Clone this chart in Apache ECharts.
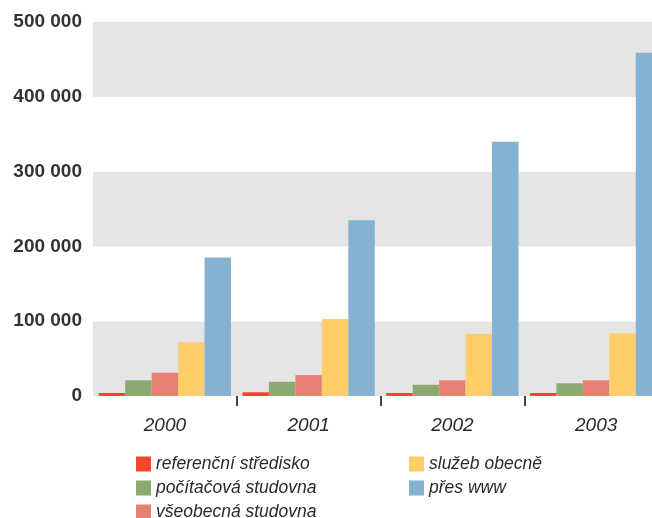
<!DOCTYPE html>
<html>
<head>
<meta charset="utf-8">
<script src="https://cdn.jsdelivr.net/npm/echarts@6/dist/echarts.min.js"></script>
<style>
html,body{margin:0;padding:0;background:#fff;}
#chart{width:652px;height:518px;}
</style>
</head>
<body>
<div id="chart"></div>
<script>
const categories = ['2000', '2001', '2002', '2003'];
const seriesNames = ['referenční středisko', 'počítačová studovna', 'všeobecná studovna', 'služeb obecně', 'přes www'];
const referencni = [4000, 5000, 4000, 4000];
const pocitacova = [21000, 19000, 15000, 17000];
const vseobecna = [31000, 28000, 21000, 21000];
const sluzeb = [72000, 103000, 83000, 84000];
const www = [185000, 235000, 340000, 459000];
const yTicks = [0, 100000, 200000, 300000, 400000, 500000];

const colors = ['#F2472C', '#8CA96F', '#E77F73', '#FFCE69', '#84B2D0'];
const values = [referencni, pocitacova, vseobecna, sluzeb, www];
const fontFamily = '"Liberation Sans", Arial, sans-serif';
const legendText = { fontFamily, fontSize: 17.5, fontStyle: 'italic', color: '#2a2a2a' };

const chart = echarts.init(document.getElementById('chart'));
chart.setOption({
  animation: false,
  color: colors,
  grid: { left: 93, width: 575, top: 22, height: 374, outerBoundsMode: 'none', containLabel: false },
  legend: [
    {
      data: seriesNames.slice(0, 3),
      orient: 'vertical', left: 136, top: 455, height: 80, padding: 0,
      itemWidth: 15, itemHeight: 15, itemGap: 6, icon: 'rect',
      textStyle: legendText
    },
    {
      data: seriesNames.slice(3),
      orient: 'vertical', left: 409, top: 455, height: 80, padding: 0,
      itemWidth: 15, itemHeight: 15, itemGap: 6, icon: 'rect',
      textStyle: legendText
    }
  ],
  xAxis: {
    type: 'category',
    data: categories,
    axisLine: { show: false },
    axisTick: {
      show: true, length: 10,
      interval: function (index) { return index !== 0; },
      lineStyle: { color: '#444', width: 2 }
    },
    axisLabel: { fontFamily, fontSize: 19, fontStyle: 'italic', color: '#2a2a2a', margin: 20 }
  },
  yAxis: {
    type: 'value',
    min: yTicks[0], max: yTicks[yTicks.length - 1], interval: 100000,
    axisLine: { show: false }, axisTick: { show: false },
    splitLine: { show: false },
    splitArea: { show: true, areaStyle: { color: ['#E5E5E5', '#FFFFFF'] } },
    axisLabel: {
      fontFamily, fontSize: 19, fontWeight: 'bold', color: '#333', margin: 11,
      formatter: function (v) { return String(v).replace(/\B(?=(\d{3})+(?!\d))/g, ' '); }
    }
  },
  series: seriesNames.map((name, i) => ({
    name, type: 'bar', data: values[i],
    barGap: 0, barCategoryGap: '8%',
    itemStyle: { color: colors[i] }
  }))
});
</script>
</body>
</html>
